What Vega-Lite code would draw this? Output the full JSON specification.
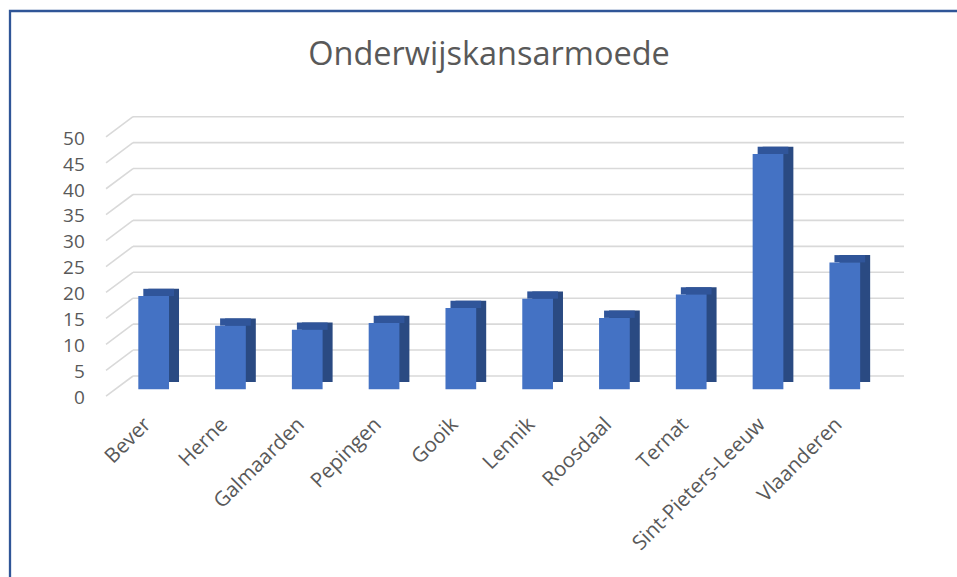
{
  "$schema": "https://vega.github.io/schema/vega-lite/v6.json",
  "width": 950,
  "height": 569,
  "autosize": "none",
  "padding": {"left": 10, "top": 11, "right": -3, "bottom": -3},
  "background": "white",
  "config": {
    "view": {"stroke": "#2F5597", "strokeWidth": 2.3},
    "font": "Open Sans",
    "axisX": {
      "offset": -204, "title": null, "domain": false,
      "ticks": false, "tickSize": 0, "labelAngle": -45, "labelAlign": "right",
      "labelBaseline": "middle", "labelPadding": 45, "labelOffset": -6,
      "labelFontSize": 20.5, "labelFont": "Open Sans", "labelColor": "#595959", "grid": false
    },
    "axisY": {
      "offset": -123, "title": null, "domain": false,
      "ticks": false, "tickSize": 0, "labelPadding": 48.7, "labelOffset": 21.5,
      "labelFontSize": 19, "labelFont": "Open Sans", "labelColor": "#595959",
      "labelOverlap": false, "grid": false
    }
  },
  "title": {
    "text": "Onderwijskansarmoede",
    "font": "Open Sans",
    "fontSize": 32.5,
    "fontWeight": "normal",
    "color": "#595959",
    "anchor": "middle",
    "baseline": "alphabetic",
    "offset": 0,
    "dy": 86.5,
    "dx": 4
  },
  "datasets": {
    "bars": [
      {"gemeente": "Bever", "waarde": 18.2},
      {"gemeente": "Herne", "waarde": 12.5},
      {"gemeente": "Galmaarden", "waarde": 11.7},
      {"gemeente": "Pepingen", "waarde": 13.0},
      {"gemeente": "Gooik", "waarde": 15.9},
      {"gemeente": "Lennik", "waarde": 17.7},
      {"gemeente": "Roosdaal", "waarde": 14.0},
      {"gemeente": "Ternat", "waarde": 18.5},
      {"gemeente": "Sint-Pieters-Leeuw", "waarde": 45.6},
      {"gemeente": "Vlaanderen", "waarde": 24.7}
    ],
    "grid": [
      {"v": 0}, {"v": 5}, {"v": 10}, {"v": 15}, {"v": 20}, {"v": 25},
      {"v": 30}, {"v": 35}, {"v": 40}, {"v": 45}, {"v": 50}
    ]
  },
  "layer": [
    {
      "data": {"name": "grid"},
      "mark": {"type": "rule", "color": "#d9d9d9", "strokeWidth": 1.6, "xOffset": -20.65, "x2Offset": 59.2},
      "encoding": {
        "x": {
          "datum": "Bever", "type": "nominal", "title": null,
          "scale": {
            "type": "band",
            "domain": ["Bever", "Herne", "Galmaarden", "Pepingen", "Gooik", "Lennik", "Roosdaal", "Ternat", "Sint-Pieters-Leeuw", "Vlaanderen"],
            "range": [123, 894],
            "paddingInner": 0.6,
            "paddingOuter": 0.32,
            "align": 0.108
          },
          "axis": {"orient": "bottom"}
        },
        "x2": {"datum": "Vlaanderen"},
        "y": {
          "field": "v", "type": "quantitative", "title": null,
          "scale": {"domain": [0, 50], "range": [365, 105.7], "nice": false, "zero": true},
          "axis": {"orient": "left", "values": [0, 5, 10, 15, 20, 25, 30, 35, 40, 45, 50]}
        }
      }
    },
    {
      "data": {"name": "grid"},
      "mark": {"type": "rule", "color": "#d9d9d9", "strokeWidth": 1.6, "xOffset": -20.65, "x2Offset": -47.65, "y2Offset": 20.2},
      "encoding": {
        "x": {"datum": "Bever", "type": "nominal", "title": null},
        "x2": {"datum": "Bever"},
        "y": {"field": "v", "type": "quantitative", "title": null, "axis": {"values": [0, 5, 10, 15, 20, 25, 30, 35, 40, 45, 50]}},
        "y2": {"field": "v"}
      }
    },
    {
      "data": {"name": "bars"},
      "mark": {"type": "bar", "color": "#2A4A82", "xOffset": 10, "yOffset": 7.2, "y2Offset": 6},
      "encoding": {
        "x": {"field": "gemeente", "type": "nominal", "sort": null, "title": null},
        "y": {"field": "waarde", "type": "quantitative", "title": null, "axis": {"values": [0, 5, 10, 15, 20, 25, 30, 35, 40, 45, 50]}},
        "y2": {"datum": 0}
      }
    },
    {
      "data": {"name": "bars"},
      "mark": {"type": "bar", "color": "#30559A", "xOffset": 5, "yOffset": 7.2, "y2Offset": 14.5},
      "encoding": {
        "x": {"field": "gemeente", "type": "nominal", "sort": null, "title": null},
        "y": {"field": "waarde", "type": "quantitative", "title": null, "axis": {"values": [0, 5, 10, 15, 20, 25, 30, 35, 40, 45, 50]}},
        "y2": {"field": "waarde"}
      }
    },
    {
      "data": {"name": "bars"},
      "mark": {"type": "bar", "color": "#4472C4", "yOffset": 14.5, "y2Offset": 13.3},
      "encoding": {
        "x": {"field": "gemeente", "type": "nominal", "sort": null, "title": null},
        "y": {"field": "waarde", "type": "quantitative", "title": null, "axis": {"values": [0, 5, 10, 15, 20, 25, 30, 35, 40, 45, 50]}},
        "y2": {"datum": 0}
      }
    }
  ]
}
